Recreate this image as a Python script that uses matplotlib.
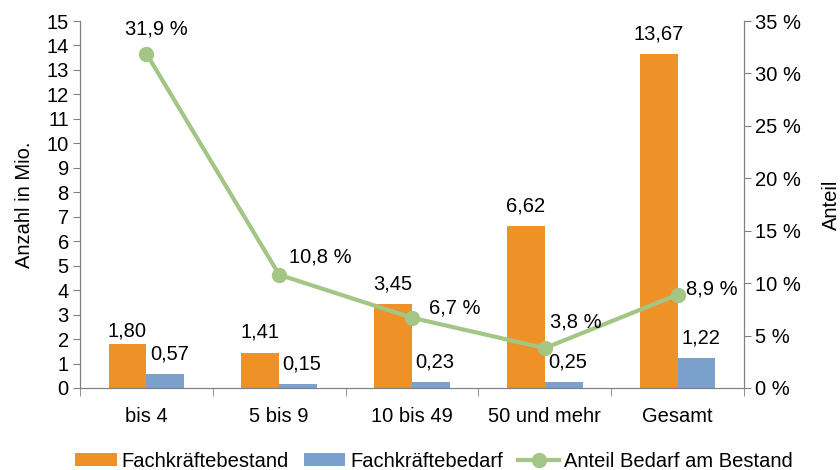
import matplotlib.pyplot as plt
import numpy as np
from matplotlib.ticker import FuncFormatter, MultipleLocator

plt.rcParams['font.family'] = ['Liberation Sans', 'DejaVu Sans']
plt.rcParams['font.size'] = 14.5

# Daten
kategorien = ['bis 4', '5 bis 9', '10 bis 49', '50 und mehr', 'Gesamt']
bestand = [1.80, 1.41, 3.45, 6.62, 13.67]
bedarf = [0.57, 0.15, 0.23, 0.25, 1.22]
anteil = [31.9, 10.8, 6.7, 3.8, 8.9]

orange = '#EE9228'
blau = '#7BA0CC'
gruen = '#A3C585'
grau = '#808080'

# Abstände der Beschriftungen (Pixel)
bestand_dy = [13, 21, 20, 20, 20]
anteil_off = [(10, 25), (41, 18), (43, 10), (31, 26), (34, 6)]

fig = plt.figure(figsize=(8.4, 4.7), dpi=100)
ax = fig.add_axes([0.0952, 0.1745, 0.7905, 0.7808])
ax2 = ax.twinx()

x = np.arange(len(kategorien))
w = 0.285

b1 = ax.bar(x - w / 2, bestand, w, color=orange, label='Fachkräftebestand', zorder=2)
b2 = ax.bar(x + w / 2, bedarf, w, color=blau, label='Fachkräftebedarf', zorder=2)

def komma(v, n):
    return f'{v:.{n}f}'.replace('.', ',')

for xi, v, dy in zip(x, bestand, bestand_dy):
    ax.annotate(komma(v, 2), (xi - w / 2, v), xytext=(0, dy), textcoords='offset pixels',
                ha='center', va='center')
for xi, v in zip(x, bedarf):
    ax.annotate(komma(v, 2), (xi + w / 2, v), xytext=(4, 20), textcoords='offset pixels',
                ha='center', va='center')

ln, = ax2.plot(x, anteil, '-o', color=gruen, lw=3, markersize=10,
               label='Anteil Bedarf am Bestand', zorder=3)
for xi, v, (dx, dy) in zip(x, anteil, anteil_off):
    ax2.annotate(komma(v, 1) + ' %', (xi, v), xytext=(dx, dy), textcoords='offset pixels',
                 ha='center', va='center')

# Achsen
ax.set_xlim(-0.5, len(kategorien) - 0.5)
ax.set_ylim(0, 15)
ax.yaxis.set_major_locator(MultipleLocator(1))
ax2.set_ylim(0, 35)
ax2.yaxis.set_major_locator(MultipleLocator(5))
ax2.yaxis.set_major_formatter(FuncFormatter(lambda v, p: f'{v:.0f} %'))

ax.set_xticks(x)
ax.set_xticklabels(kategorien)
ax.set_xticks(np.arange(len(kategorien) + 1) - 0.5, minor=True)
ax.tick_params(axis='x', which='major', length=0, pad=14)
ax.tick_params(axis='x', which='minor', length=6, color=grau)
ax.tick_params(axis='y', length=5, color=grau, pad=3)
ax2.tick_params(axis='y', length=5, color=grau, pad=3)

for a in (ax, ax2):
    a.spines['top'].set_visible(False)
    for s in ('left', 'right', 'bottom'):
        a.spines[s].set_color(grau)

ax.set_ylabel('Anzahl in Mio.', labelpad=9)
ax2.set_ylabel('Anteil', labelpad=15)

fig.legend(handles=[b1, b2, ln], loc='center', bbox_to_anchor=(0.517, 0.019), ncol=3,
           frameon=False, handlelength=2.05, handletextpad=0.25, columnspacing=0.75,
           handleheight=0.65, borderpad=0)

fig.savefig('out.png', dpi=100)
